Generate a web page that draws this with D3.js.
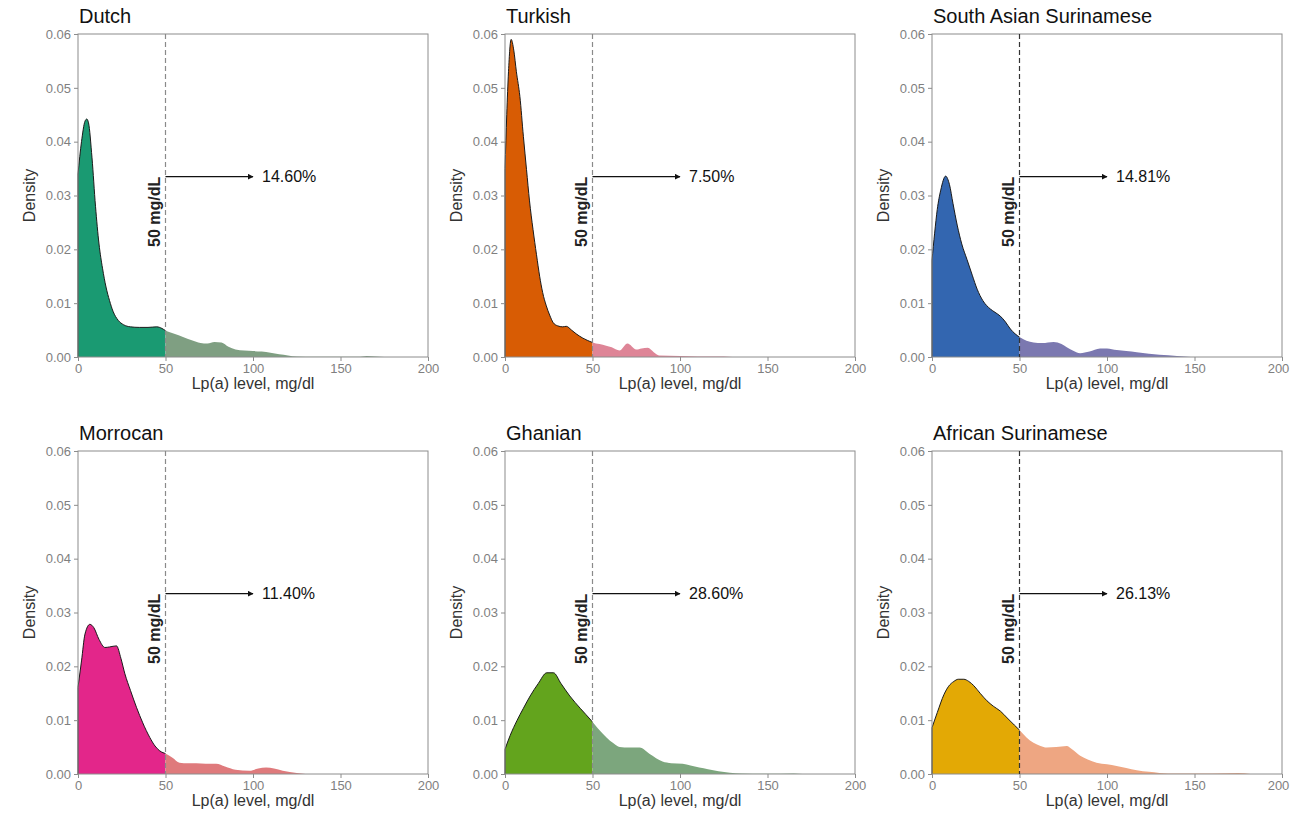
<!DOCTYPE html>
<html>
<head>
<meta charset="utf-8">
<script src="https://cdn.jsdelivr.net/npm/d3@7"></script>
<style>
  body { margin: 0; background: #fff; }
  text { font-family: "Liberation Sans", Arial, sans-serif; }
  .tick text { fill: #7f7f7f; font-size: 13px; }
  .tick line { stroke: #8c8c8c; }
</style>
</head>
<body>
<div id="chart"></div>
<script>
// groups, shares above 50 mg/dl and the density curves
var groups = ["Dutch", "Turkish", "South Asian Surinamese", "Morrocan", "Ghanian", "African Surinamese"];
var percents = ["14.60%", "7.50%", "14.81%", "11.40%", "28.60%", "26.13%"];

var xTicks = [0, 50, 100, 150, 200];
var yTicks = [0, 0.01, 0.02, 0.03, 0.04, 0.05, 0.06];
var cutoff = 50;
var arrowTo = 100;
var arrowDensity = 0.0335;

var dutch = [[0,0.034],[2,0.040],[4,0.0438],[5,0.0442],[6,0.0435],[8,0.037],[10,0.028],[12,0.021],[14,0.0165],[16,0.013],[18,0.0105],[20,0.0085],[23,0.0068],[26,0.006],[30,0.0056],[35,0.0055],[40,0.0055],[45,0.0056],[48,0.0053],[50,0.0049],[55,0.0043],[60,0.0037],[65,0.0031],[70,0.0026],[74,0.0025],[78,0.0028],[82,0.0027],[86,0.0019],[90,0.0014],[95,0.0012],[100,0.0011],[105,0.001],[110,0.0008],[115,0.0005],[120,0.0003],[125,0.0001],[135,0.00003],[160,0.00003],[165,0.0002],[170,0.0001],[175,0]];
var turkish = [[0,0.035],[1,0.045],[2,0.053],[3.5,0.059],[5,0.057],[6.5,0.053],[8.5,0.0484],[10.5,0.041],[12.3,0.0348],[14,0.029],[16,0.0237],[18,0.019],[19.8,0.015],[21.5,0.012],[23.6,0.0095],[25.5,0.0078],[27.5,0.0064],[30,0.0058],[33,0.0056],[35,0.0057],[38,0.005],[40.7,0.0043],[44.5,0.0035],[47,0.0031],[50,0.0027],[54,0.0024],[57.8,0.0021],[61,0.0018],[65.4,0.0012],[70,0.0025],[75,0.0014],[78,0.0016],[81.6,0.0017],[85,0.0009],[88,0.0003],[100,0.0002],[110,0.0001],[125,0.0001],[130,0]];
var southAsian = [[0,0.018],[1.5,0.023],[3,0.0274],[5,0.031],[7.8,0.0336],[10,0.032],[12,0.0285],[14.4,0.0245],[17,0.021],[20,0.0181],[23,0.0152],[25.8,0.0126],[29,0.0105],[33.4,0.0089],[36,0.0083],[39,0.0076],[42,0.0065],[44.8,0.0052],[47.5,0.0043],[50.5,0.0036],[54,0.003],[58,0.0027],[63,0.0026],[69.5,0.0028],[74,0.0024],[77,0.0018],[81,0.0011],[84.6,0.0007],[90,0.001],[96,0.0016],[100,0.0016],[105.6,0.0013],[111,0.0011],[117,0.0009],[124,0.0006],[130,0.0004],[140,0.0002],[148,0]];
var moroccan = [[0,0.0161],[2,0.021],[4,0.026],[6.8,0.0278],[9,0.0272],[12,0.025],[15.4,0.0235],[18,0.0236],[22,0.0238],[24.5,0.0215],[26.8,0.0186],[30,0.0155],[33.4,0.0124],[37,0.0095],[41,0.0068],[44,0.0052],[46.7,0.0043],[50.5,0.0037],[54,0.003],[58,0.0021],[63,0.002],[67.6,0.002],[73,0.0019],[79,0.0019],[84,0.0014],[90,0.0008],[98,0.0006],[103,0.001],[107.5,0.0012],[112,0.001],[117,0.0006],[125,0.0002],[130,0]];
var ghanian = [[0,0.0046],[3,0.0072],[6.8,0.0099],[10.5,0.0122],[14.4,0.0145],[19,0.0168],[23.9,0.0188],[27.7,0.0188],[32,0.0168],[37,0.0145],[43,0.0122],[49.4,0.0099],[53,0.0085],[58,0.0068],[62,0.0057],[65.5,0.005],[71,0.0049],[77,0.0049],[82.7,0.0037],[90,0.0023],[95,0.002],[101.5,0.0019],[106,0.0016],[111,0.0012],[116,0.0009],[122,0.0005],[135,0.0001],[150,0.00005],[165,0.0001],[170,0]];
var african = [[0,0.0086],[3,0.0114],[6.9,0.0148],[9.5,0.0163],[12.5,0.0172],[15,0.0176],[18.2,0.0176],[21,0.0172],[23.9,0.0164],[27.5,0.015],[31.4,0.0136],[35,0.0126],[39,0.0117],[43,0.0104],[47,0.0091],[50.5,0.008],[54,0.0068],[58,0.0058],[62,0.0052],[65.5,0.0049],[71,0.005],[77,0.0052],[80,0.0046],[84.7,0.0034],[89,0.0027],[94,0.0021],[100,0.0018],[105.5,0.0015],[111,0.0011],[117,0.0007],[124,0.0004],[130,0.0002],[140,0.0001],[160,0.0001],[175,0.0002],[182,0]];
var curves = [dutch, turkish, southAsian, moroccan, ghanian, african];

var lowColors = ["#1a9a72", "#d85c04", "#3366b0", "#e3268a", "#63a41d", "#e3a905"];
var highColors = ["#7f9f82", "#de8597", "#7b78b0", "#df7a7c", "#7ca67d", "#eea682"];
var cutoffColors = ["#8a8a8a", "#8a8a8a", "#333333", "#8a8a8a", "#8a8a8a", "#333333"];

var W = 1291, H = 823;
var plotW = 350, plotH = 323;
var colLeft = [78, 505, 932];
var rowTop = [34, 451];

var svg = d3.select("#chart").append("svg")
    .attr("width", W)
    .attr("height", H);

var defs = svg.append("defs");
defs.append("marker")
    .attr("id", "arrowHead")
    .attr("viewBox", "0 0 10 10")
    .attr("refX", 9).attr("refY", 5)
    .attr("markerWidth", 6).attr("markerHeight", 6)
    .attr("markerUnits", "userSpaceOnUse")
    .attr("orient", "auto")
    .append("path")
    .attr("d", "M0,0L10,5L0,10Z")
    .attr("fill", "#111");

var x = d3.scaleLinear().domain([0, 200]).range([0, plotW]);
var y = d3.scaleLinear().domain([0, 0.06]).range([plotH, 0]);

var area = d3.area()
    .x(d => x(d[0]))
    .y0(y(0))
    .y1(d => y(d[1]))
    .curve(d3.curveMonotoneX);

var line = d3.line()
    .x(d => x(d[0]))
    .y(d => y(d[1]))
    .curve(d3.curveMonotoneX);

// clip regions left / right of the cutoff, shared by all panels
defs.append("clipPath").attr("id", "clipLow")
    .append("rect").attr("x", -2).attr("y", -5).attr("width", x(cutoff) + 2).attr("height", plotH + 5);
defs.append("clipPath").attr("id", "clipHigh")
    .append("rect").attr("x", x(cutoff)).attr("y", -5).attr("width", plotW - x(cutoff)).attr("height", plotH + 5);

groups.forEach(function (name, i) {
    var col = i % 3, row = Math.floor(i / 3);
    var g = svg.append("g")
        .attr("transform", "translate(" + colLeft[col] + "," + rowTop[row] + ")");

    // filled density, split at 50 mg/dl
    g.append("path").datum(curves[i])
        .attr("d", area)
        .attr("fill", lowColors[i])
        .attr("clip-path", "url(#clipLow)");
    g.append("path").datum(curves[i])
        .attr("d", area)
        .attr("fill", highColors[i])
        .attr("clip-path", "url(#clipHigh)");
    g.append("path").datum(curves[i])
        .attr("d", line)
        .attr("fill", "none")
        .attr("stroke", "#1a1a1a")
        .attr("stroke-width", 1)
        .attr("clip-path", "url(#clipLow)");
    g.append("line")
        .attr("x1", x(0)).attr("x2", x(0))
        .attr("y1", y(0)).attr("y2", y(curves[i][0][1]))
        .attr("stroke", "#1a1a1a").attr("stroke-width", 1);

    // frame
    g.append("rect")
        .attr("width", plotW).attr("height", plotH)
        .attr("fill", "none")
        .attr("stroke", "#8c8c8c")
        .attr("stroke-width", 1);

    // axes
    var yAxisG = g.append("g")
        .call(d3.axisLeft(y).tickValues(yTicks).tickFormat(d3.format(".2f")).tickSize(4).tickPadding(3));
    yAxisG.select(".domain").remove();

    var xAxisG = g.append("g")
        .attr("transform", "translate(0," + plotH + ")")
        .call(d3.axisBottom(x).tickValues(xTicks).tickSize(4).tickPadding(3));
    xAxisG.select(".domain").remove();
    if (col === 2) {
        // keep the last label inside the page
        xAxisG.selectAll(".tick text").filter(d => d === 200).attr("dx", -4);
    }

    // cutoff line
    g.append("line")
        .attr("x1", x(cutoff)).attr("x2", x(cutoff))
        .attr("y1", 0).attr("y2", plotH)
        .attr("stroke", cutoffColors[i])
        .attr("stroke-width", 1.2)
        .attr("stroke-dasharray", "5,3");

    g.append("text")
        .attr("transform", "translate(" + (x(cutoff) - 6) + "," + y(arrowDensity) + ") rotate(-90)")
        .attr("text-anchor", "end")
        .style("font-size", "16px")
        .style("font-weight", "600")
        .style("fill", "#222")
        .text("50 mg/dL");

    // arrow and share above cutoff
    g.append("line")
        .attr("x1", x(cutoff)).attr("x2", x(arrowTo))
        .attr("y1", y(arrowDensity)).attr("y2", y(arrowDensity))
        .attr("stroke", "#111")
        .attr("stroke-width", 1.3)
        .attr("marker-end", "url(#arrowHead)");

    g.append("text")
        .attr("x", x(arrowTo) + 9)
        .attr("y", y(arrowDensity))
        .attr("dy", "0.35em")
        .style("font-size", "16px")
        .style("fill", "#111")
        .text(percents[i]);

    // titles
    g.append("text")
        .attr("x", 1).attr("y", -11)
        .style("font-size", "20px")
        .style("fill", "#111")
        .text(name);

    g.append("text")
        .attr("x", plotW / 2).attr("y", plotH + 32)
        .attr("text-anchor", "middle")
        .style("font-size", "16px")
        .style("fill", "#333")
        .text("Lp(a) level, mg/dl");

    g.append("text")
        .attr("transform", "translate(-43," + (plotH / 2) + ") rotate(-90)")
        .attr("text-anchor", "middle")
        .style("font-size", "16px")
        .style("fill", "#333")
        .text("Density");
});
</script>
</body>
</html>
